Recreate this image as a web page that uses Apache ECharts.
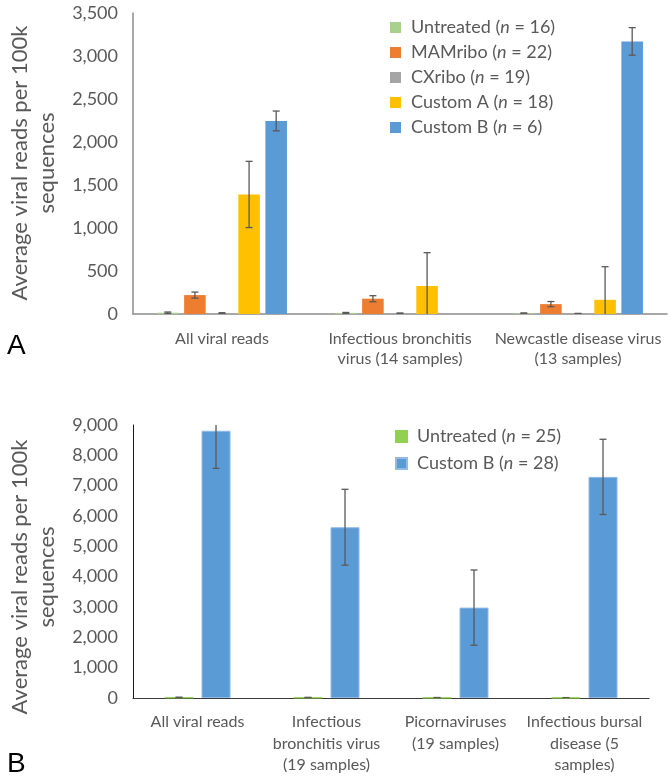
<!DOCTYPE html>
<html>
<head>
<meta charset="utf-8">
<script src="https://cdn.jsdelivr.net/npm/echarts@6/dist/echarts.min.js"></script>
<style>
html,body{margin:0;padding:0;background:#fff;}
#chart{width:668px;height:777px;}
</style>
</head>
<body>
<div id="chart"></div>
<script>
// ---------- Panel A data ----------
const categoriesA = ['All viral reads', 'Infectious bronchitis\nvirus (14 samples)', 'Newcastle disease virus\n(13 samples)'];
const seriesNamesA = ['Untreated (n = 16)', 'MAMribo (n = 22)', 'CXribo (n = 19)', 'Custom A (n = 18)', 'Custom B (n = 6)'];
const untreatedA = [15, 12, 8];
const untreatedErrA = [8, 6, 5];
const mamriboA = [220, 178, 115];
const mamriboErrA = [35, 35, 30];
const cxriboA = [10, 8, 4];
const cxriboErrA = [5, 4, 3];
const customA_A = [1390, 326, 165];
const customA_ErrA = [385, 387, 385];
const customB_A = [2245, null, 3170];
const customB_ErrA = [115, null, 160];
const yTicksA = {min: 0, max: 3500, interval: 500};

// ---------- Panel B data ----------
const categoriesB = ['All viral reads', 'Infectious\nbronchitis virus\n(19 samples)', 'Picornaviruses\n(19 samples)', 'Infectious bursal\ndisease (5\nsamples)'];
const seriesNamesB = ['Untreated (n = 25)', 'Custom B (n = 28)'];
const untreatedB = [18, 14, 10, 8];
const untreatedErrB = [10, 8, 6, 5];
const customB_B = [8810, 5630, 2980, 7290];
const customB_ErrB = [1240, 1250, 1240, 1240];
const yTicksB = {min: 0, max: 9000, interval: 1000};

const yTitle = 'Average viral reads per 100k\nsequences';

// ---------- styles ----------
const FONT = 'Lato';
const LABEL_COLOR = '#595959';
const colorsA = ['#a9d18e', '#ed7d31', '#a5a5a5', '#ffc000', '#5b9bd5'];
const colorsB = ['#92d050', '#5b9bd5'];
const CAT_GAP_A = 0.27, BAR_GAP_A = 0.256;
const CAT_GAP_B = 0.488, BAR_GAP_B = 0.276;

function fmt(v) { return Number(v).toLocaleString('en-US'); }

function legendFormatter(name) {
  const m = name.match(/^(.*\()n( = .*)$/);
  if (!m) return '{s| }{t|' + name + '}';
  return '{s| }{t|' + m[1] + '}{i|n}{t|' + m[2] + '}';
}

function makeRich(size, lh) {
  const base = {fontFamily: FONT, fontSize: size, color: LABEL_COLOR, lineHeight: lh};
  return {
    s: Object.assign({}, base, {width: 5}),
    t: Object.assign({}, base),
    i: Object.assign({}, base, {fontStyle: 'italic'})
  };
}

function makeErrSeries(values, errs, idx, n, catGap, barGap, gridIdx, clipName) {
  const data = [];
  values.forEach(function (v, c) {
    if (v != null && errs[c] != null) data.push([c, v, errs[c]]);
  });
  return {
    type: 'custom',
    name: clipName,
    xAxisIndex: gridIdx,
    yAxisIndex: gridIdx,
    clip: true,
    silent: true,
    z: 5,
    encode: {x: 0, y: 1},
    data: data,
    renderItem: function (params, api) {
      const cat = api.value(0), val = api.value(1), err = api.value(2);
      const W = api.size([1, 0])[0];
      const remained = W * (1 - catGap);
      const bw = remained / (n + (n - 1) * barGap);
      const off = -remained / 2 + bw / 2 + idx * bw * (1 + barGap);
      const x = api.coord([cat, 0])[0] + off;
      const yTop = api.coord([cat, val + err])[1];
      const yBot = api.coord([cat, val - err])[1];
      const cap = 3.5;
      const st = {stroke: '#595959', lineWidth: 1.3};
      return {
        type: 'group',
        children: [
          {type: 'line', shape: {x1: x, y1: yTop, x2: x, y2: yBot}, style: st},
          {type: 'line', shape: {x1: x - cap, y1: yTop, x2: x + cap, y2: yTop}, style: st},
          {type: 'line', shape: {x1: x - cap, y1: yBot, x2: x + cap, y2: yBot}, style: st}
        ]
      };
    }
  };
}

const valsA = [untreatedA, mamriboA, cxriboA, customA_A, customB_A];
const errsA = [untreatedErrA, mamriboErrA, cxriboErrA, customA_ErrA, customB_ErrA];
const valsB = [untreatedB, customB_B];
const errsB = [untreatedErrB, customB_ErrB];

const series = [];
valsA.forEach(function (v, i) {
  series.push({
    type: 'bar', name: seriesNamesA[i], xAxisIndex: 0, yAxisIndex: 0,
    data: v, itemStyle: {color: colorsA[i]},
    barCategoryGap: (CAT_GAP_A * 100) + '%', barGap: (BAR_GAP_A * 100) + '%'
  });
});
valsA.forEach(function (v, i) {
  series.push(makeErrSeries(v, errsA[i], i, valsA.length, CAT_GAP_A, BAR_GAP_A, 0, 'errA' + i));
});
valsB.forEach(function (v, i) {
  series.push({
    type: 'bar', name: seriesNamesB[i], xAxisIndex: 1, yAxisIndex: 1,
    data: v, itemStyle: {color: colorsB[i], borderColor: i === 1 ? '#8fbbe6' : colorsB[i], borderWidth: 1},
    barCategoryGap: (CAT_GAP_B * 100) + '%', barGap: (BAR_GAP_B * 100) + '%'
  });
});
valsB.forEach(function (v, i) {
  series.push(makeErrSeries(v, errsB[i], i, valsB.length, CAT_GAP_B, BAR_GAP_B, 1, 'errB' + i));
});

const option = {
  animation: false,
  backgroundColor: '#ffffff',
  grid: [
    {left: 133, top: 13, width: 534, height: 301, containLabel: false},
    {left: 133, top: 425, width: 516, height: 273, containLabel: false}
  ],
  legend: [
    {
      data: seriesNamesA, orient: 'vertical', left: 385, top: 10,
      itemWidth: 11, itemHeight: 11, itemGap: 0, icon: 'rect', selectedMode: false,
      formatter: legendFormatter,
      textStyle: {fontFamily: FONT, fontSize: 18, color: LABEL_COLOR, lineHeight: 25, rich: makeRich(18, 25)}
    },
    {
      data: seriesNamesB, orient: 'vertical', left: 390, top: 418,
      itemWidth: 11, itemHeight: 11, itemGap: 0, icon: 'rect', selectedMode: false,
      formatter: legendFormatter,
      textStyle: {fontFamily: FONT, fontSize: 18, color: LABEL_COLOR, lineHeight: 27, rich: makeRich(18, 27)}
    }
  ],
  xAxis: [
    {
      type: 'category', gridIndex: 0, data: categoriesA,
      axisLine: {lineStyle: {color: '#8c8c8c', width: 1.5}},
      axisTick: {show: false},
      axisLabel: {interval: 0, color: LABEL_COLOR, fontFamily: FONT, fontSize: 16, lineHeight: 20, margin: 15}
    },
    {
      type: 'category', gridIndex: 1, data: categoriesB,
      axisLine: {lineStyle: {color: '#3a3a3a', width: 1.2}},
      axisTick: {show: false},
      axisLabel: {interval: 0, color: LABEL_COLOR, fontFamily: FONT, fontSize: 16, lineHeight: 21.7, margin: 13}
    }
  ],
  yAxis: [
    {
      type: 'value', gridIndex: 0, min: yTicksA.min, max: yTicksA.max, interval: yTicksA.interval,
      splitLine: {show: false},
      axisLine: {show: true, lineStyle: {color: '#8c8c8c', width: 1.5}},
      axisTick: {show: false},
      axisLabel: {color: LABEL_COLOR, fontFamily: FONT, fontSize: 18, margin: 15, formatter: fmt}
    },
    {
      type: 'value', gridIndex: 1, min: yTicksB.min, max: yTicksB.max, interval: yTicksB.interval,
      splitLine: {show: false},
      axisLine: {show: true, lineStyle: {color: '#1a1a1a', width: 1}},
      axisTick: {show: false},
      axisLabel: {color: LABEL_COLOR, fontFamily: FONT, fontSize: 18, margin: 15, formatter: fmt}
    }
  ],
  graphic: [
    {type: 'text', x: 33, y: 163, rotation: Math.PI / 2,
     style: {text: yTitle, font: '22px Lato', fill: LABEL_COLOR, align: 'center', verticalAlign: 'middle', lineHeight: 27}},
    {type: 'text', x: 33, y: 577, rotation: Math.PI / 2,
     style: {text: yTitle, font: '22px Lato', fill: LABEL_COLOR, align: 'center', verticalAlign: 'middle', lineHeight: 27}},
    {type: 'text', x: 7, y: 346,
     style: {text: 'A', font: '28px "Liberation Sans"', fill: '#000', align: 'left', verticalAlign: 'middle'}},
    {type: 'text', x: 7, y: 764,
     style: {text: 'B', font: '28px "Liberation Sans"', fill: '#000', align: 'left', verticalAlign: 'middle'}}
  ],
  series: series
};

const chart = echarts.init(document.getElementById('chart'), null, {renderer: 'canvas'});
chart.setOption(option);
</script>
</body>
</html>
